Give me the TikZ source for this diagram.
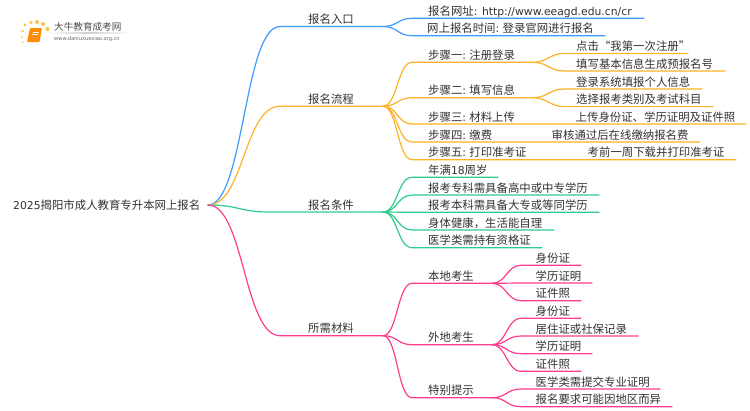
\documentclass[tikz,border=0pt]{standalone}
\usepackage{fontspec}
\setmainfont{Noto Sans CJK SC}
\newfontfamily\lat{DejaVu Sans}
\usetikzlibrary{calc}
\definecolor{cblue}{HTML}{3D9BFF}
\definecolor{corange}{HTML}{FFB224}
\definecolor{cgreen}{HTML}{2FCB8B}
\definecolor{cpink}{HTML}{FF3D8E}
\definecolor{ctext}{HTML}{333333}
\definecolor{csun}{HTML}{FFC44D}
\newcommand{\lsm}{\lat\fontsize{10.8pt}{13pt}\selectfont}
\tikzset{
  label text/.style={anchor=base west,inner sep=0pt,text=ctext,font=\fontsize{11.4pt}{13pt}\selectfont},
  link/.style={line width=1.2pt,line cap=round},
  sundot/.style={fill=csun,draw=none},
}
% name, parent, line start x, line end x, y, text x, colour, text
\newcommand{\branchto}[8]{%
  \coordinate (#1-s) at (#3,#5);
  \coordinate (#1-e) at (#4,#5);
  \coordinate (#1-m) at ($(#2-e)!.5!(#1-s)$);
  \node[label text] (#1) at (#6,#5-3) {#8};
  \draw[link,#7] (#2-e) .. controls (#1-m |- #2-e) and (#1-m |- #1-s) .. (#1-s) -- (#1-e);
}
\begin{document}
\begin{tikzpicture}[x=1pt,y=-1pt]
\useasboundingbox (0,0) rectangle (750,410);
\fill[white] (0,0) rectangle (750,410);
% logo
\foreach \x/\y/\r in {22.7/31/1.4,25/25/1.6,31/22.5/1.9,37/22/2,43/24/2,47.5/29/2.2,22/37/1,23/42/.8}
  \fill[sundot] (\x,\y) circle (\r);
\fill[orange!90!yellow,rounded corners=1pt] (30,28) -- (42,28) -- (39.5,42) -- (27,42) -- cycle;
\draw[white,line width=.5pt] (32.5,32) -- (38.5,32) (32,34.5) -- (38,34.5);
\shade[left color=white,right color=white,middle color=black!18] (45,32.8) rectangle (133,33.4);
\node[label text,font=\fontsize{9.6pt}{11pt}\selectfont,text=black!70] (logot) at (54,30.5) {大牛教育成考网};
\node[label text,font=\lat\fontsize{5.1pt}{6pt}\selectfont,text=black!60] (logou) at (54,40.5) {www.daniuxuexiao.org.cn};
% root
\coordinate (root-e) at (208,205);
\node[label text] (root) at (13,209) {{\lsm 2025}揭阳市成人教育专升本网上报名};
% blue
\branchto{a}{root}{280}{383}{26.5}{308}{cblue}{报名入口}
\branchto{a1}{a}{412}{644}{18.3}{428}{cblue}{报名网址{\lsm : http://www.eeagd.edu.cn/cr}}
\branchto{a2}{a}{412}{605}{35.7}{427}{cblue}{网上报名时间{\lsm :} 登录官网进行报名}
% orange
\branchto{b}{root}{280}{383}{106.2}{308}{corange}{报名流程}
\branchto{b1}{b}{412}{532}{62.3}{428}{corange}{步骤一{\lsm :} 注册登录}
\branchto{b2}{b}{412}{532}{97.7}{428}{corange}{步骤二{\lsm :} 填写信息}
\branchto{b3}{b}{412}{746}{124}{428}{corange}{步骤三{\lsm :} 材料上传}
\branchto{b4}{b}{412}{700}{142}{428}{corange}{步骤四{\lsm :} 缴费}
\branchto{b5}{b}{412}{736}{159.7}{428}{corange}{步骤五{\lsm :} 打印准考证}
\branchto{b1a}{b1}{565}{688}{53.4}{576}{corange}{点击“我第一次注册”}
\branchto{b1b}{b1}{565}{725}{71}{576}{corange}{填写基本信息生成预报名号}
\branchto{b2a}{b2}{565}{702}{89}{576}{corange}{登录系统填报个人信息}
\branchto{b2b}{b2}{565}{713}{106.6}{576}{corange}{选择报考类别及考试科目}
\node[label text] (b3a) at (575.5,121) {上传身份证、学历证明及证件照};
\node[label text] (b4a) at (551.5,139) {审核通过后在线缴纳报名费};
\node[label text] (b5a) at (587.5,156.7) {考前一周下载并打印准考证};
% green
\branchto{c}{root}{270}{383}{212}{308}{cgreen}{报名条件}
\branchto{c1}{c}{412}{498}{177.3}{428}{cgreen}{年满{\lsm 18}周岁}
\branchto{c2}{c}{412}{599}{195}{428}{cgreen}{报考专科需具备高中或中专学历}
\branchto{c3}{c}{412}{599}{212.3}{428}{cgreen}{报考本科需具备大专或等同学历}
\branchto{c4}{c}{412}{554}{230}{428}{cgreen}{身体健康，生活能自理}
\branchto{c5}{c}{412}{542}{247.7}{428}{cgreen}{医学类需持有资格证}
% pink
\branchto{d}{root}{280}{383}{335.7}{308}{cpink}{所需材料}
\branchto{d1}{d}{412}{492}{283.3}{428}{cpink}{本地考生}
\branchto{d2}{d}{412}{492}{344.7}{428}{cpink}{外地考生}
\branchto{d3}{d}{412}{492}{397.7}{428}{cpink}{特别提示}
\branchto{d1a}{d1}{521}{581}{265.3}{535.5}{cpink}{身份证}
\branchto{d1b}{d1}{521}{592}{283}{535.5}{cpink}{学历证明}
\branchto{d1c}{d1}{521}{581}{300.7}{535.5}{cpink}{证件照}
\branchto{d2a}{d2}{521}{581}{318.3}{535.5}{cpink}{身份证}
\branchto{d2b}{d2}{521}{638}{336}{535.5}{cpink}{居住证或社保记录}
\branchto{d2c}{d2}{521}{592}{353.7}{535.5}{cpink}{学历证明}
\branchto{d2d}{d2}{521}{581}{371.3}{535.5}{cpink}{证件照}
\branchto{d3a}{d3}{521}{660}{389}{535.5}{cpink}{医学类需提交专业证明}
\branchto{d3b}{d3}{521}{672}{406.7}{535.5}{cpink}{报名要求可能因地区而异}
\end{tikzpicture}
\end{document}
